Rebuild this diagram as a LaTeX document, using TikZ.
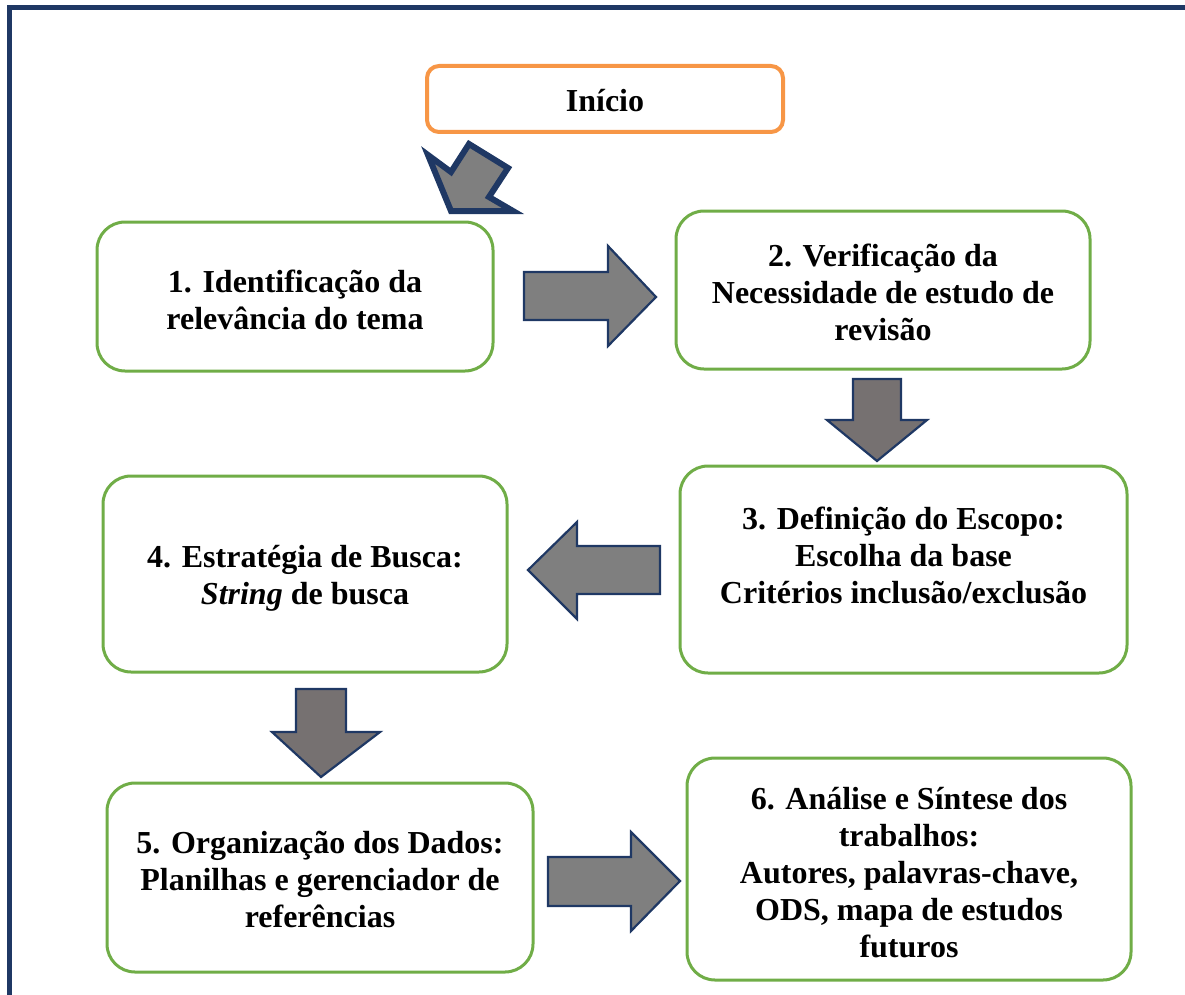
\documentclass[tikz,border=0pt]{standalone}
\usepackage{fontspec}
\setmainfont{Liberation Serif}
\definecolor{navy}{HTML}{1F3864}
\definecolor{grn}{HTML}{70AD47}
\definecolor{org}{HTML}{F79646}
\definecolor{arrgray}{HTML}{7F7F7F}
\definecolor{arrgrayw}{HTML}{767171}
\begin{document}
\begin{tikzpicture}[x=1pt,y=-1pt,
  stepbox/.style={draw=grn,line width=3pt,rounded corners=28pt,fill=white,
    align=center,inner sep=0pt},
  startbox/.style={draw=org,line width=4pt,rounded corners=12pt,fill=white,
    align=center,inner sep=0pt,font=\fontsize{32}{37}\selectfont\bfseries},
  lbl/.style={align=center,inner sep=0pt,font=\fontsize{32}{37}\selectfont\bfseries},
  blockarrow/.style={draw=navy,line width=2.2pt,fill=arrgray,line join=miter},
  blockarrowd/.style={draw=navy,line width=2.2pt,fill=arrgrayw,line join=miter},
  diagarrow/.style={draw=navy,line width=6pt,fill=arrgray,line join=miter}]
\useasboundingbox (0,0) rectangle (1185,995);
% frame
\draw[navy,line width=5pt] (9,1000) -- (9,8) -- (1190,8);

% boxes
\node[startbox,minimum width=356pt,minimum height=66pt] (start) at (605,99) {};
\node[stepbox,minimum width=396pt,minimum height=149pt] (b1) at (295,296.5) {};
\node[stepbox,minimum width=414pt,minimum height=158pt] (b2) at (883,290) {};
\node[stepbox,minimum width=447pt,minimum height=207pt] (b3) at (903.5,569.5) {};
\node[stepbox,minimum width=404pt,minimum height=196pt] (b4) at (305,574) {};
\node[stepbox,minimum width=426pt,minimum height=189pt] (b5) at (320,877.5) {};
\node[stepbox,minimum width=444pt,minimum height=222pt] (b6) at (909,869) {};

% texts
\node[lbl] (t0) at ([yshift=-2pt]start.center) {Início};
\node[lbl] (t1) at ([yshift=-3.5pt]b1.center) {1. Identificação da\\relevância do tema};
\node[lbl] (t2) at ([yshift=-2.5pt]b2.center) {2. Verificação da\\Necessidade de estudo de\\revisão};
\node[lbl] (t3) at ([yshift=14.5pt]b3.center) {3. Definição do Escopo:\\Escolha da base\\Critérios inclusão/exclusão};
\node[lbl] (t4) at ([yshift=-4pt]b4.center) {4. Estratégia de Busca:\\\textit{String} de busca};
\node[lbl] (t5) at ([yshift=-1.5pt]b5.center) {5. Organização dos Dados:\\Planilhas e gerenciador de\\referências};
\node[lbl] (t6) at ([yshift=-4pt]b6.center) {6. Análise e Síntese dos\\trabalhos:\\Autores, palavras-chave,\\ODS, mapa de estudos\\futuros};

% diagonal arrow (start -> b1)
\draw[diagarrow] (469,144) -- (508,168) -- (489,197) -- (513,211) -- (451,211) -- (428,155) -- (451,172) -- cycle;
% right arrow b1 -> b2
\draw[blockarrow] (524,272) -- (608,272) -- (608,246) -- (656,297) -- (608,346) -- (608,320) -- (524,320) -- cycle;
% down arrow b2 -> b3
\draw[blockarrowd] (853,379) -- (901,379) -- (901,420) -- (927,420) -- (877,461) -- (827,420) -- (853,420) -- cycle;
% left arrow b3 -> b4
\draw[blockarrow] (660,546) -- (577,546) -- (577,522) -- (528,570) -- (577,619) -- (577,594) -- (660,594) -- cycle;
% down arrow b4 -> b5
\draw[blockarrowd] (296,689) -- (346,689) -- (346,732) -- (380,732) -- (321,777) -- (272,732) -- (296,732) -- cycle;
% right arrow b5 -> b6
\draw[blockarrow] (548,857) -- (631,857) -- (631,832) -- (680,881) -- (631,931) -- (631,906) -- (548,906) -- cycle;
\end{tikzpicture}
\end{document}
